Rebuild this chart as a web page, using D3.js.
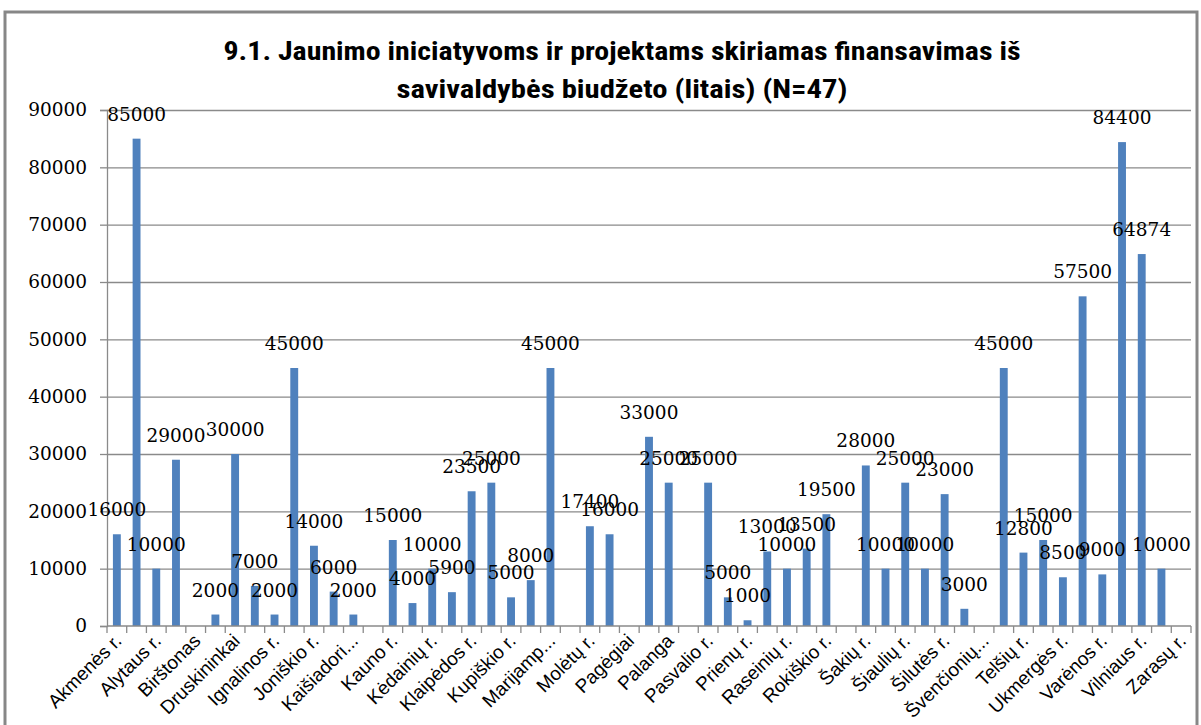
<!DOCTYPE html>
<html><head><meta charset="utf-8">
<script src="https://cdn.jsdelivr.net/npm/d3@7"></script>
<style>html,body{margin:0;padding:0;background:#fff;} svg{display:block}</style>
</head><body>
<svg id="chart" width="1201" height="725"></svg>
<script>
const categories = ["Akmenės r.","Alytaus m.","Alytaus r.","Anykščių r.","Birštonas","Biržų r.","Druskininkai","Elektrėnai","Ignalinos r.","Jonavos r.","Joniškio r.","Jurbarko r.","Kaišiadorių r.","Kauno m.","Kauno r.","Kazlų Rūda","Kėdainių r.","Kelmės r.","Klaipėdos r.","Kretingos r.","Kupiškio r.","Lazdijų r.","Marijampolė","Mažeikių r.","Molėtų r.","Neringa","Pagėgiai","Pakruojo r.","Palanga","Panevėžio r.","Pasvalio r.","Plungės r.","Prienų r.","Radviliškio r.","Raseinių r.","Rietavas","Rokiškio r.","Skuodo r.","Šakių r.","Šalčininkų r.","Šiaulių r.","Šilalės r.","Šilutės r.","Širvintų r.","Švenčionių r.","Tauragės r.","Telšių r.","Trakų r.","Ukmergės r.","Utenos r.","Varėnos r.","Vilniaus m.","Vilniaus r.","Visaginas","Zarasų r."];
const values = [16000,85000,10000,29000,null,2000,30000,7000,2000,45000,14000,6000,2000,null,15000,4000,10000,5900,23500,25000,5000,8000,45000,null,17400,16000,null,33000,25000,null,25000,5000,1000,13000,10000,13500,19500,null,28000,10000,25000,10000,23000,3000,null,45000,12800,15000,8500,57500,9000,84400,64874,10000,null];
const tickLabels = ["Akmenės r.","Alytaus r.","Birštonas","Druskininkai","Ignalinos r.","Joniškio r.","Kaišiadori...","Kauno r.","Kėdainių r.","Klaipėdos r.","Kupiškio r.","Marijamp...","Molėtų r.","Pagėgiai","Palanga","Pasvalio r.","Prienų r.","Raseinių r.","Rokiškio r.","Šakių r.","Šiaulių r.","Šilutės r.","Švenčionių...","Telšių r.","Ukmergės r.","Varėnos r.","Vilniaus r.","Zarasų r."];
const yTicks = [0,10000,20000,30000,40000,50000,60000,70000,80000,90000];
const titleLines = ["9.1. Jaunimo iniciatyvoms ir projektams skiriamas finansavimas iš","savivaldybės biudžeto (litais) (N=47)"];

const svg = d3.select("#chart");
const M = {left:107, right:1191, top:110, bottom:626};
const gridColor = "#8a8a8a";
const serif = "'DejaVu Serif', serif";

// outer frame
svg.append("rect").attr("x",5).attr("y",12).attr("width",1192).attr("height",760)
  .attr("fill","none").attr("stroke","#878787").attr("stroke-width",3);

// title
svg.append("g").selectAll("text").data(titleLines).join("text")
  .attr("x",622).attr("y",(d,i)=>60+i*38)
  .attr("text-anchor","middle")
  .attr("font-family","'Liberation Sans Narrow','Roboto Condensed','Liberation Sans',sans-serif")
  .attr("font-weight","bold").attr("font-size",25)
  .attr("textLength",(d,i)=>i===0?797:451).attr("lengthAdjust","spacingAndGlyphs")
  .attr("fill","#000").text(d=>d);

const x = d3.scaleBand().domain(categories).range([M.left,M.right]).paddingInner(0.6).paddingOuter(0.3);
const y = d3.scaleLinear().domain([0,90000]).range([M.bottom,M.top]);

// gridlines
svg.append("g").attr("transform",`translate(${M.left},0)`)
  .call(d3.axisLeft(y).tickValues(yTicks.slice(1)).tickSize(-(M.right-M.left)).tickFormat(""))
  .call(g=>g.select(".domain").remove())
  .call(g=>g.selectAll("line").attr("stroke",gridColor).attr("stroke-width",1.3));

// y axis
svg.append("g").attr("transform",`translate(${M.left},0)`)
  .call(d3.axisLeft(y).tickValues(yTicks).tickSize(7).tickPadding(13).tickFormat(d=>String(d)))
  .call(g=>g.select(".domain").attr("stroke",gridColor).attr("stroke-width",1.3))
  .call(g=>g.selectAll("line").attr("stroke",gridColor).attr("stroke-width",1.3))
  .call(g=>g.selectAll("text").attr("font-family",serif).attr("font-size",18.5).attr("fill","#000"));

// bars
svg.append("g").selectAll("rect").data(categories.map((c,i)=>({c,v:values[i]})).filter(d=>d.v!=null)).join("rect")
  .attr("x",d=>x(d.c)).attr("width",x.bandwidth())
  .attr("y",d=>y(d.v)).attr("height",d=>y(0)-y(d.v))
  .attr("fill","#4f81bd");

// x axis baseline + boundary ticks
const bounds = d3.range(categories.length+1).map(i=>M.left + i*(M.right-M.left)/categories.length);
svg.append("line").attr("x1",M.left).attr("x2",M.right).attr("y1",y(0)).attr("y2",y(0))
  .attr("stroke",gridColor).attr("stroke-width",1.3);
svg.append("g").selectAll("line").data(bounds).join("line")
  .attr("x1",d=>d).attr("x2",d=>d).attr("y1",y(0)).attr("y2",y(0)+7)
  .attr("stroke",gridColor).attr("stroke-width",1.3);

// category labels (every other)
const shown = categories.filter((c,i)=>i%2===0);
svg.append("g").selectAll("text").data(shown).join("text")
  .attr("transform",d=>`translate(${x(d)+x.bandwidth()/2+6},${y(0)+16}) rotate(-45)`)
  .attr("text-anchor","end")
  .attr("font-family","'Liberation Sans',sans-serif").attr("font-size",19).attr("fill","#000")
  .text((d,i)=>tickLabels[i]);

// data labels
svg.append("g").selectAll("text").data(categories.map((c,i)=>({c,v:values[i]})).filter(d=>d.v!=null)).join("text")
  .attr("x",d=>x(d.c)+x.bandwidth()/2).attr("y",d=>y(d.v)-18)
  .attr("text-anchor","middle")
  .attr("font-family",serif).attr("font-size",18.5).attr("fill","#000")
  .text(d=>String(d.v));
</script>
</body></html>
